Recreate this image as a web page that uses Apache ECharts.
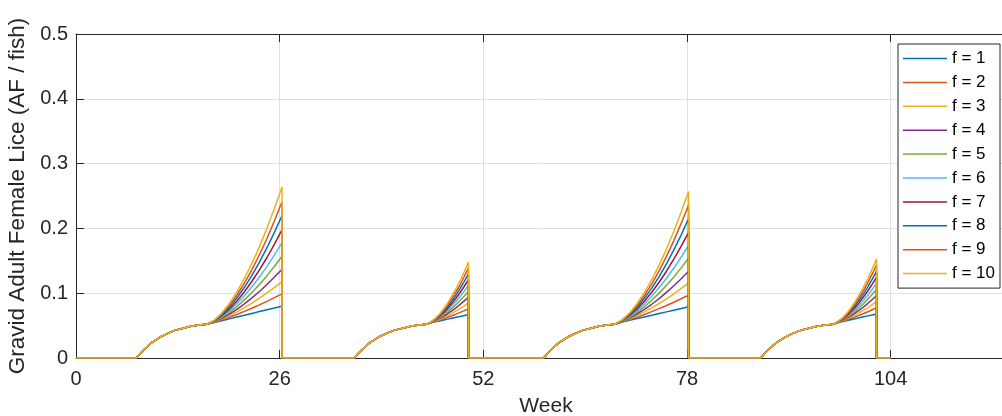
<!DOCTYPE html>
<html>
<head>
<meta charset="utf-8">
<script src="https://cdn.jsdelivr.net/npm/echarts@6/dist/echarts.min.js"></script>
<style>
html,body{margin:0;padding:0;background:#fff;}
#chart{width:1002px;height:416px;}
</style>
</head>
<body>
<div id="chart"></div>
<script>
// ---- data ----
const seriesNames = ['f = 1','f = 2','f = 3','f = 4','f = 5','f = 6','f = 7','f = 8','f = 9','f = 10'];
const xTicks = [0, 26, 52, 78, 104];
const yTicks = [0, 0.1, 0.2, 0.3, 0.4, 0.5];

// key weeks of each of the four cycles
const cycleStart    = [7.7, 35.5, 59.7, 87.4];
const cycleJunction = [16.7, 44.8, 68.8, 96.7];
const cycleEnd      = [26.3, 50.1, 78.2, 102.2];
const lastWeek = 104;

// common rising part (same for every f)
const riseFrac   = [0, 0.056, 0.111, 0.167, 0.222, 0.333, 0.444, 0.556, 0.667, 0.778, 0.889, 1];
const riseValues = [0, 0.007, 0.013, 0.019, 0.024, 0.032, 0.038, 0.043, 0.046, 0.049, 0.051, 0.052];

// branching part, sampled at these fractions between junction and end
const branchFrac = [0, 0.1, 0.2, 0.3, 0.4, 0.5, 0.6, 0.7, 0.8, 0.9, 1];

const branchC1 = [
  [0.052,0.0548,0.0576,0.0604,0.0632,0.0660,0.0688,0.0716,0.0744,0.0772,0.080],
  [0.052,0.0552,0.0588,0.0629,0.0672,0.0719,0.0768,0.0820,0.0874,0.0931,0.099],
  [0.052,0.0556,0.0601,0.0653,0.0712,0.0777,0.0848,0.0923,0.1004,0.1090,0.118],
  [0.052,0.0559,0.0613,0.0678,0.0752,0.0836,0.0927,0.1027,0.1134,0.1249,0.137],
  [0.052,0.0563,0.0626,0.0703,0.0794,0.0897,0.1011,0.1136,0.1271,0.1416,0.157],
  [0.052,0.0568,0.0640,0.0730,0.0839,0.0962,0.1100,0.1250,0.1414,0.1591,0.178],
  [0.052,0.0572,0.0653,0.0756,0.0881,0.1023,0.1184,0.1359,0.1551,0.1758,0.198],
  [0.052,0.0576,0.0667,0.0785,0.0927,0.1091,0.1276,0.1479,0.1702,0.1942,0.220],
  [0.052,0.0580,0.0681,0.0812,0.0972,0.1156,0.1364,0.1593,0.1845,0.2118,0.241],
  [0.052,0.0585,0.0696,0.0841,0.1020,0.1227,0.1461,0.1719,0.2003,0.2310,0.264]
];
const branchC2 = [
  [0.053,0.0544,0.0558,0.0572,0.0586,0.0600,0.0614,0.0628,0.0642,0.0656,0.067],
  [0.053,0.0546,0.0564,0.0584,0.0605,0.0628,0.0652,0.0677,0.0704,0.0731,0.076],
  [0.053,0.0548,0.0570,0.0595,0.0624,0.0655,0.0690,0.0726,0.0765,0.0806,0.085],
  [0.053,0.0549,0.0576,0.0607,0.0643,0.0683,0.0727,0.0775,0.0827,0.0882,0.094],
  [0.053,0.0551,0.0581,0.0618,0.0662,0.0711,0.0765,0.0824,0.0888,0.0957,0.103],
  [0.053,0.0553,0.0587,0.0630,0.0681,0.0739,0.0803,0.0873,0.0950,0.1032,0.112],
  [0.053,0.0555,0.0593,0.0642,0.0700,0.0766,0.0841,0.0922,0.1011,0.1107,0.121],
  [0.053,0.0557,0.0599,0.0653,0.0719,0.0794,0.0879,0.0971,0.1073,0.1183,0.130],
  [0.053,0.0558,0.0605,0.0665,0.0738,0.0822,0.0916,0.1020,0.1134,0.1258,0.139],
  [0.053,0.0560,0.0611,0.0676,0.0757,0.0849,0.0954,0.1069,0.1196,0.1333,0.148]
];
const branchC3 = [
  [0.053,0.0556,0.0582,0.0608,0.0634,0.0660,0.0686,0.0712,0.0738,0.0764,0.079],
  [0.053,0.0560,0.0594,0.0631,0.0672,0.0715,0.0762,0.0810,0.0861,0.0914,0.097],
  [0.053,0.0563,0.0606,0.0656,0.0712,0.0774,0.0841,0.0914,0.0991,0.1073,0.116],
  [0.053,0.0567,0.0618,0.0679,0.0750,0.0829,0.0917,0.1012,0.1114,0.1224,0.134],
  [0.053,0.0571,0.0631,0.0705,0.0792,0.0891,0.1001,0.1121,0.1251,0.1391,0.154],
  [0.053,0.0575,0.0644,0.0731,0.0834,0.0953,0.1085,0.1230,0.1388,0.1558,0.174],
  [0.053,0.0579,0.0657,0.0756,0.0877,0.1014,0.1169,0.1339,0.1525,0.1725,0.194],
  [0.053,0.0583,0.0670,0.0783,0.0921,0.1079,0.1257,0.1453,0.1668,0.1901,0.215],
  [0.053,0.0587,0.0684,0.0811,0.0965,0.1144,0.1345,0.1568,0.1812,0.2077,0.236],
  [0.053,0.0592,0.0698,0.0838,0.1010,0.1208,0.1434,0.1682,0.1956,0.2252,0.257]
];
const branchC4 = [
  [0.053,0.0545,0.0560,0.0575,0.0590,0.0605,0.0620,0.0635,0.0650,0.0665,0.068],
  [0.053,0.0547,0.0566,0.0587,0.0610,0.0634,0.0659,0.0686,0.0714,0.0744,0.0774],
  [0.053,0.0549,0.0572,0.0599,0.0630,0.0663,0.0699,0.0738,0.0779,0.0823,0.0869],
  [0.053,0.0551,0.0578,0.0612,0.0650,0.0692,0.0739,0.0789,0.0844,0.0902,0.0963],
  [0.053,0.0553,0.0585,0.0624,0.0670,0.0721,0.0779,0.0841,0.0909,0.0981,0.1058],
  [0.053,0.0554,0.0591,0.0636,0.0690,0.0750,0.0818,0.0892,0.0973,0.1060,0.1152],
  [0.053,0.0556,0.0597,0.0648,0.0710,0.0780,0.0858,0.0944,0.1038,0.1139,0.1247],
  [0.053,0.0558,0.0603,0.0660,0.0729,0.0809,0.0898,0.0995,0.1102,0.1218,0.1341],
  [0.053,0.0560,0.0609,0.0673,0.0750,0.0838,0.0938,0.1047,0.1167,0.1297,0.1436],
  [0.053,0.0562,0.0615,0.0685,0.0769,0.0867,0.0977,0.1098,0.1231,0.1376,0.153]
];

const colors = ['#0072BD','#D95319','#EDB120','#7E2F8E','#77AC30','#4DBEEE','#A2142F','#0072BD','#D95319','#EDB120'];

// ---- build series from the arrays ----
const branches = [branchC1, branchC2, branchC3, branchC4];
function buildPoints(fi) {
  const pts = [[0, 0]];
  for (let c = 0; c < 4; c++) {
    const s = cycleStart[c], j = cycleJunction[c], e = cycleEnd[c];
    for (let k = 0; k < riseFrac.length; k++) {
      pts.push([s + riseFrac[k] * (j - s), riseValues[k]]);
    }
    const b = branches[c][fi];
    for (let k = 1; k < branchFrac.length; k++) {
      pts.push([j + branchFrac[k] * (e - j), b[k]]);
    }
    pts.push([e, 0]);
  }
  pts.push([lastWeek, 0]);
  return pts;
}

const FONT = 'Liberation Sans, Arial, Helvetica, sans-serif';
const TXT = '#262626';

const series = seriesNames.map((name, i) => ({
  name: name,
  type: 'line',
  data: buildPoints(i),
  symbol: 'none',
  showSymbol: false,
  animation: false,
  lineStyle: { color: colors[i], width: 1.5 },
  itemStyle: { color: colors[i] },
  emphasis: { disabled: true }
}));

const chart = echarts.init(document.getElementById('chart'), null, { renderer: 'canvas' });
chart.setOption({
  animation: false,
  color: colors,
  grid: { left: 76, top: 34, width: 940, height: 324, containLabel: false, outerBoundsMode: 'none' },
  xAxis: [{
    type: 'value',
    min: 0, max: 120, interval: 26,
    name: 'Week', nameLocation: 'middle', nameGap: 38,
    nameTextStyle: { fontFamily: FONT, fontSize: 21, color: TXT },
    axisLine: { show: true, lineStyle: { color: TXT, width: 1 } },
    axisTick: { show: true, inside: true, length: 8, lineStyle: { color: TXT } },
    axisLabel: { fontFamily: FONT, fontSize: 20, color: TXT, margin: 11, showMaxLabel: false,
      formatter: v => (xTicks.indexOf(v) >= 0 ? String(v) : '') },
    splitLine: { show: true, lineStyle: { color: '#dfdfdf', width: 1 } }
  }, {
    type: 'value', position: 'top',
    min: 0, max: 120, interval: 26,
    axisLine: { show: true, lineStyle: { color: TXT, width: 1 } },
    axisTick: { show: true, inside: true, length: 8, lineStyle: { color: TXT } },
    axisLabel: { show: false },
    splitLine: { show: false }
  }],
  yAxis: [{
    type: 'value',
    min: 0, max: 0.5, interval: 0.1,
    name: 'Gravid Adult Female Lice (AF / fish)', nameLocation: 'middle', nameGap: 44,
    nameTextStyle: { fontFamily: FONT, fontSize: 22.5, color: TXT },
    axisLine: { show: true, lineStyle: { color: TXT, width: 1 } },
    axisTick: { show: true, inside: true, length: 8, lineStyle: { color: TXT } },
    axisLabel: { fontFamily: FONT, fontSize: 20, color: TXT, margin: 8,
      formatter: v => { const t = yTicks.find(y => Math.abs(y - v) < 1e-9); return t === undefined ? '' : String(t); } },
    splitLine: { show: true, lineStyle: { color: '#dfdfdf', width: 1 } }
  }],
  legend: {
    orient: 'vertical',
    left: 898, top: 44,
    data: seriesNames,
    icon: 'rect',
    itemWidth: 44, itemHeight: 1.5, itemGap: 6.9,
    padding: [6, 5, 6, 5],
    backgroundColor: '#fff',
    borderColor: TXT, borderWidth: 1,
    textStyle: { fontFamily: FONT, fontSize: 17, color: '#000' },
    selectedMode: false
  },
  series: series
});
</script>
</body>
</html>
